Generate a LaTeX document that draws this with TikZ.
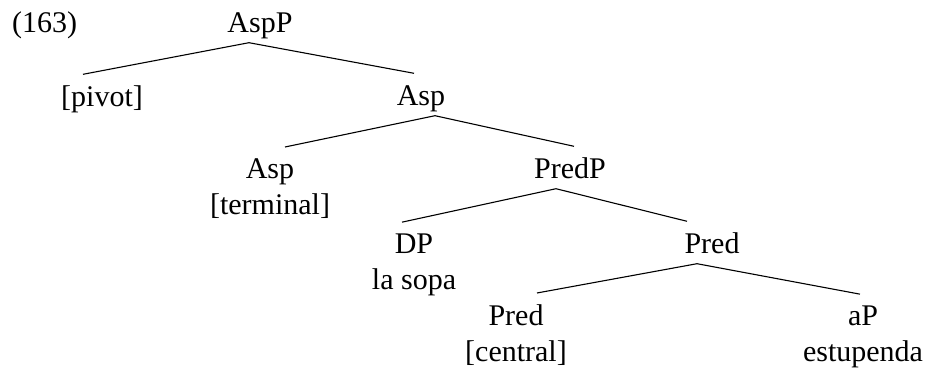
\documentclass[tikz,border=0pt]{standalone}
\usepackage{fontspec}
\setmainfont{Liberation Serif}
\begin{document}
\begin{tikzpicture}[x=1pt,y=-1pt,
		cat/.style={anchor=base,inner xsep=0pt,inner ysep=3pt,
			text height=0.95em,text depth=0.25em},
		leaf/.style={anchor=base,align=center,inner xsep=0pt,inner ysep=11pt},
		branch/.style={line width=1.1pt}]
		\fontsize{30}{36}\selectfont
		\useasboundingbox (0,0) rectangle (933,372);

		% example number
		\node[anchor=base west,inner sep=0pt] (num) at (12,32) {(163)};

		% categories, top to bottom (leaves placed by their last line)
		\node[cat] (AspP) at (260,32) {AspP};
		\node[cat] (pivot) at (102,106) {[pivot]};
		\node[cat] (Asp) at (421,105) {Asp};
		\node[leaf] (AspHead) at (270,214) {Asp\\{}[terminal]};
		\node[cat] (PredP) at (570,178) {PredP};
		\node[leaf] (DP) at (414,289) {DP\\la sopa};
		\node[cat] (Pred) at (712,253) {Pred};
		\node[leaf] (PredHead) at (516,361) {Pred\\{}[central]};
		\node[leaf] (aP) at (863,361) {aP\\estupenda};

		% branches
		\draw[branch] ([xshift=-11pt]AspP.south) -- ([xshift=-19pt]pivot.north);
		\draw[branch] ([xshift=-11pt]AspP.south) -- ([xshift=-7pt]Asp.north);
		\draw[branch] ([xshift=14pt]Asp.south) -- ([xshift=15pt]AspHead.north);
		\draw[branch] ([xshift=14pt]Asp.south) -- ([xshift=4pt]PredP.north);
		\draw[branch] ([xshift=-14pt]PredP.south) -- ([xshift=-12pt]DP.north);
		\draw[branch] ([xshift=-14pt]PredP.south) -- ([xshift=-25pt]Pred.north);
		\draw[branch] ([xshift=-15pt]Pred.south) -- ([xshift=21pt]PredHead.north);
		\draw[branch] ([xshift=-15pt]Pred.south) -- ([xshift=-3pt]aP.north);
	\end{tikzpicture}
\end{document}
